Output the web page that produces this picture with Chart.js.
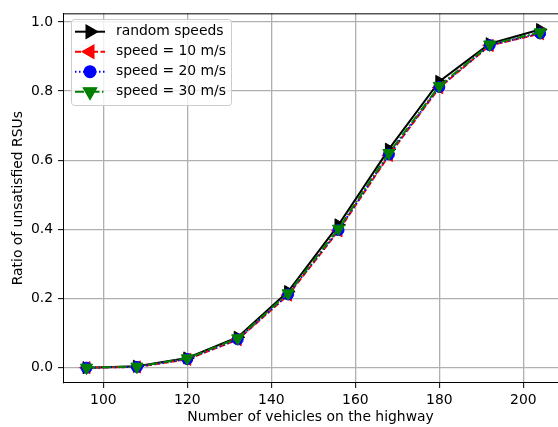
<!DOCTYPE html>
<html lang="en">
<head>
    <meta charset="UTF-8">
    <title>Ratio of unsatisfied RSUs</title>
    <script src="https://cdn.jsdelivr.net/npm/chart.js"></script>
    <style>
        html, body {
            margin: 0;
            padding: 0;
            background: #fff;
            overflow: hidden;
        }
        canvas {
            display: block;
        }
    </style>
</head>
<body>
    <canvas id="chart" width="558" height="427"></canvas>

    <script>
        // data
        const vehicles = [96, 108, 120, 132, 144, 156, 168, 180, 192, 204];
        const randomSpeeds = [0.0, 0.004, 0.028, 0.088, 0.220, 0.413, 0.632, 0.828, 0.937, 0.978];
        const speed10 = [0.0, 0.002, 0.024, 0.081, 0.210, 0.396, 0.614, 0.810, 0.932, 0.966];
        const speed20 = [0.0, 0.002, 0.025, 0.082, 0.212, 0.398, 0.617, 0.812, 0.933, 0.967];
        const speed30 = [0.0, 0.003, 0.027, 0.085, 0.215, 0.402, 0.621, 0.815, 0.935, 0.970];

        const xTicks = [100, 120, 140, 160, 180, 200];
        const yTicks = [0.0, 0.2, 0.4, 0.6, 0.8, 1.0];

        const seriesNames = ['random speeds', 'speed = 10 m/s', 'speed = 20 m/s', 'speed = 30 m/s'];

        const FONT = 'DejaVu Sans';
        const FSIZE = 13.9;
        Chart.defaults.font.family = FONT;
        Chart.defaults.font.size = FSIZE;
        Chart.defaults.color = '#000';

        function toPoints(ys) {
            return vehicles.map((x, i) => ({ x: x, y: ys[i] }));
        }

        const datasets = [
            {
                label: seriesNames[0], data: toPoints(randomSpeeds),
                borderColor: '#000', backgroundColor: '#000',
                pointStyle: 'triangle', rotation: 90, pointRadius: 7, order: 3
            },
            {
                label: seriesNames[1], data: toPoints(speed10),
                borderColor: '#ff0000', backgroundColor: '#ff0000', borderDash: [6, 2.5],
                pointStyle: 'triangle', rotation: -90, pointRadius: 7, order: 2
            },
            {
                label: seriesNames[2], data: toPoints(speed20),
                borderColor: '#0000ff', backgroundColor: '#0000ff', borderDash: [1.5, 2.5],
                pointStyle: 'circle', rotation: 0, pointRadius: 5.5, order: 1
            },
            {
                label: seriesNames[3], data: toPoints(speed30),
                borderColor: '#008000', backgroundColor: '#008000', borderDash: [9, 2.5, 1.5, 2.5],
                pointStyle: 'triangle', rotation: 180, pointRadius: 7, order: 0
            }
        ];
        datasets.forEach(d => {
            d.borderWidth = 2;
            d.pointBorderWidth = 1;
            d.pointHoverRadius = d.pointRadius;
            d.showLine = true;
            d.tension = 0;
            d.fill = false;
        });

        // top spine + legend box drawn after the chart
        const framePlugin = {
            id: 'frame',
            afterDraw(chart) {
                const ctx = chart.ctx;
                const a = chart.chartArea;
                ctx.save();
                ctx.strokeStyle = '#000';
                ctx.lineWidth = 1;
                ctx.beginPath();
                ctx.moveTo(a.left, a.top + 0.5);
                ctx.lineTo(a.right, a.top + 0.5);
                ctx.stroke();

                // legend
                const bx = 71.5, by = 19.5, bw = 160, bh = 86, r = 3;
                ctx.beginPath();
                ctx.moveTo(bx + r, by);
                ctx.arcTo(bx + bw, by, bx + bw, by + bh, r);
                ctx.arcTo(bx + bw, by + bh, bx, by + bh, r);
                ctx.arcTo(bx, by + bh, bx, by, r);
                ctx.arcTo(bx, by, bx + bw, by, r);
                ctx.closePath();
                ctx.fillStyle = 'rgba(255,255,255,0.8)';
                ctx.fill();
                ctx.strokeStyle = '#cccccc';
                ctx.stroke();

                datasets.forEach((d, i) => {
                    const y = 31.7 + i * 20;
                    ctx.strokeStyle = d.borderColor;
                    ctx.lineWidth = 2;
                    ctx.setLineDash(d.borderDash || []);
                    ctx.beginPath();
                    ctx.moveTo(75, y);
                    ctx.lineTo(105, y);
                    ctx.stroke();
                    ctx.setLineDash([]);
                    Chart.helpers.drawPoint(ctx, {
                        pointStyle: d.pointStyle,
                        rotation: d.rotation,
                        radius: d.pointRadius,
                        borderWidth: 1
                    }, 90, y);
                    ctx.fillStyle = d.backgroundColor;
                    ctx.fill();
                    ctx.strokeStyle = d.borderColor;
                    ctx.lineWidth = 1;
                    ctx.stroke();

                    ctx.fillStyle = '#000';
                    ctx.font = FSIZE + 'px "' + FONT + '"';
                    ctx.textBaseline = 'middle';
                    ctx.textAlign = 'left';
                    ctx.fillText(d.label, 116, y);
                });
                ctx.restore();
            }
        };

        new Chart(document.getElementById('chart'), {
            type: 'scatter',
            data: { datasets: datasets },
            options: {
                responsive: false,
                animation: false,
                layout: { autoPadding: false, padding: { left: 0, top: 12, right: 0, bottom: 0 } },
                plugins: {
                    legend: { display: false },
                    tooltip: { enabled: false }
                },
                scales: {
                    x: {
                        type: 'linear',
                        min: 90.4,
                        max: 208.26,
                        afterBuildTicks: s => { s.ticks = xTicks.map(v => ({ value: v })); },
                        afterFit: s => { s.height = 44; },
                        ticks: { padding: 4, callback: v => String(v) },
                        grid: { color: '#b0b0b0', lineWidth: 1.3, tickColor: '#000', tickLength: 5, tickWidth: 1 },
                        border: { color: '#000', width: 1 },
                        title: {
                            display: true,
                            text: 'Number of vehicles on the highway',
                            font: { size: FSIZE },
                            padding: { top: 0, bottom: 1 }
                        }
                    },
                    y: {
                        type: 'linear',
                        min: -0.0444,
                        max: 1.025,
                        afterBuildTicks: s => { s.ticks = yTicks.map(v => ({ value: v })); },
                        afterFit: s => { s.width = 63; },
                        ticks: { padding: 5, callback: v => v.toFixed(1) },
                        grid: { color: '#b0b0b0', lineWidth: 1.3, tickColor: '#000', tickLength: 5, tickWidth: 1 },
                        border: { color: '#000', width: 1 },
                        title: {
                            display: true,
                            text: 'Ratio of unsatisfied RSUs',
                            font: { size: FSIZE },
                            padding: { top: 10, bottom: 0 }
                        }
                    }
                }
            },
            plugins: [framePlugin]
        });
    </script>
</body>
</html>
